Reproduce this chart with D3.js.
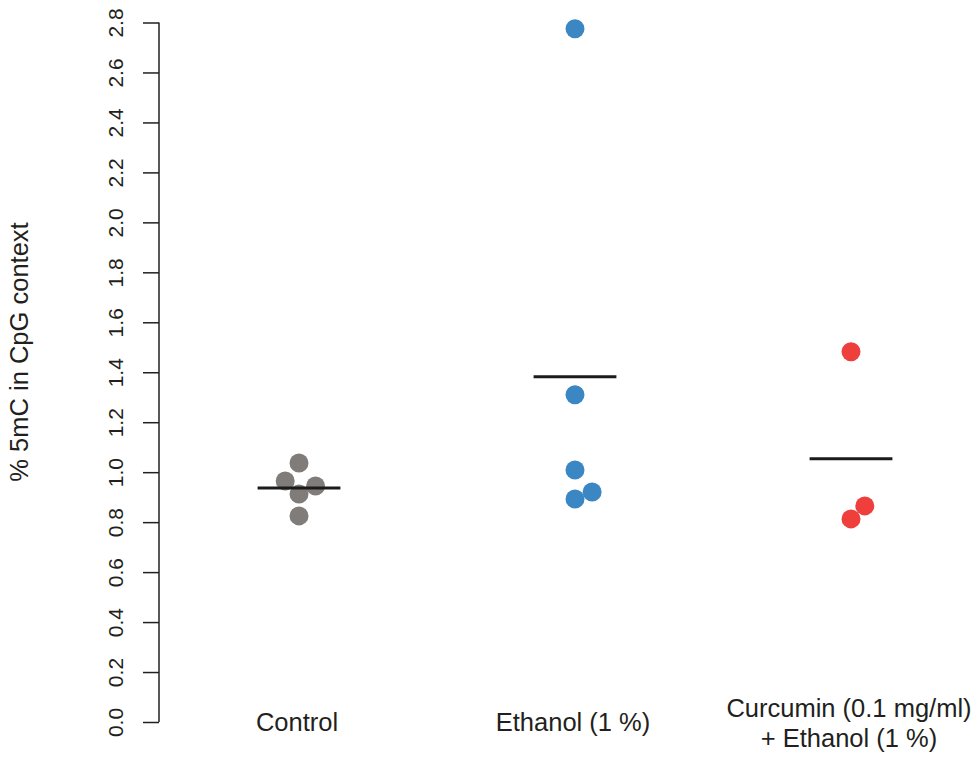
<!DOCTYPE html>
<html>
<head>
<meta charset="utf-8">
<script src="https://cdn.jsdelivr.net/npm/d3@7"></script>
<style>
    body { margin: 0; background: #fff; }
    svg text { font-family: "Liberation Sans", Arial, Helvetica, sans-serif; fill: #231f20; }
</style>
</head>
<body>
<div id="chart"></div>
<script>
// groups along the x axis
const groups = ["Control", "Ethanol (1 %)", "Curcumin (0.1 mg/ml)\n+ Ethanol (1 %)"];
const groupColors = ["#807c7a", "#3a87c4", "#ee3f3c"];

// % 5mC per sample, with small horizontal offsets (in group units) to avoid overlap
const controlValues = [1.037, 0.965, 0.913, 0.945, 0.825];
const controlOffsets = [0, -0.05, 0, 0.06, 0];
const ethanolValues = [2.775, 1.31, 1.009, 0.893, 0.921];
const ethanolOffsets = [0, 0, 0, 0, 0.062];
const curcuminValues = [1.482, 0.865, 0.813];
const curcuminOffsets = [0, 0.05, 0];

const yTicks = [0, 0.2, 0.4, 0.6, 0.8, 1.0, 1.2, 1.4, 1.6, 1.8, 2.0, 2.2, 2.4, 2.6, 2.8];

const width = 979, height = 758;

const series = [controlValues, ethanolValues, curcuminValues];
const offsets = [controlOffsets, ethanolOffsets, curcuminOffsets];

const points = [];
series.forEach((vals, g) => {
    vals.forEach((v, i) => points.push({group: g, value: v, offset: offsets[g][i]}));
});
const means = series.map((vals, g) => ({group: g, value: d3.mean(vals)}));

const x = d3.scaleLinear().domain([0, 2]).range([299, 851]);
const y = d3.scaleLinear().domain([0, 2.8]).range([722, 22.5]);

const svg = d3.select("#chart")
    .append("svg")
    .attr("width", width)
    .attr("height", height);

// Y axis
const yAxis = svg.append("g")
    .attr("transform", "translate(159,0)")
    .attr("font-family", "Liberation Sans, Arial, sans-serif")
    .call(d3.axisLeft(y).tickValues(yTicks).tickSize(16).tickPadding(0).tickFormat(d3.format(".1f")));
yAxis.select(".domain")
    .attr("d", `M0,${y(0)}V${y(2.8)}`)
    .attr("stroke", "#231f20")
    .attr("stroke-width", 1.5);
yAxis.selectAll(".tick line")
    .attr("stroke", "#231f20")
    .attr("stroke-width", 1.5);
yAxis.selectAll(".tick text")
    .attr("x", null).attr("dy", null)
    .attr("transform", "translate(-36.5,0) rotate(-90)")
    .attr("text-anchor", "middle")
    .attr("font-size", "21px");

// Y title
svg.append("text")
    .attr("transform", `translate(28,352) rotate(-90)`)
    .attr("text-anchor", "middle")
    .attr("font-size", "25.5px")
    .text("% 5mC in CpG context");

// Group labels
svg.selectAll(".groupLabel")
    .data(groups)
    .join("text")
    .classed("groupLabel", true)
    .attr("text-anchor", "middle")
    .attr("font-size", "25.5px")
    .each(function(d, i) {
        let lines = d.split("\n");
        let startY = lines.length > 1 ? 717 : 731;
        d3.select(this).selectAll("tspan")
            .data(lines)
            .join("tspan")
            .attr("x", x(i) - 2)
            .attr("y", (l, j) => startY + j * 29.5)
            .text(l => l);
    });

// Points
svg.selectAll(".dot")
    .data(points)
    .join("circle")
    .classed("dot", true)
    .attr("cx", d => x(d.group + d.offset))
    .attr("cy", d => y(d.value))
    .attr("r", 9.5)
    .style("fill", d => groupColors[d.group]);

// Mean lines
svg.selectAll(".meanLine")
    .data(means)
    .join("line")
    .classed("meanLine", true)
    .attr("x1", d => x(d.group - 0.15))
    .attr("x2", d => x(d.group + 0.15))
    .attr("y1", d => y(d.value))
    .attr("y2", d => y(d.value))
    .style("stroke", "#1c1a1a")
    .style("stroke-width", "3px");
</script>
</body>
</html>
